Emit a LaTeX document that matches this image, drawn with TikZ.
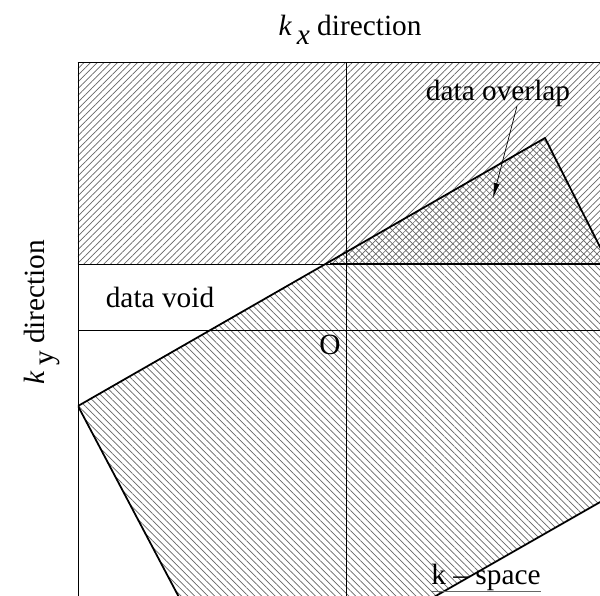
\documentclass[tikz,border=0pt]{standalone}
\usepackage{fontspec}
\setmainfont{Liberation Serif}
\usetikzlibrary{arrows.meta,patterns.meta}

\begin{document}
\begin{tikzpicture}[x=0.02cm, y=-0.02cm,
  lbl/.style={font=\fontsize{16.7}{20}\selectfont, inner sep=0pt},
  hatchne/.style={pattern={Lines[angle=45, distance=2.7pt, line width=0.4pt]}, pattern color=black!60},
  hatchnw/.style={pattern={Lines[angle=-45, distance=2.7pt, line width=0.4pt]}, pattern color=black!60},
  rimline/.style={line width=1pt},
  axisline/.style={line width=0.5pt},
  pointer/.style={-{Latex[length=8.5pt, width=3.4pt]}, line width=0.4pt},
]
\useasboundingbox (0,0) rectangle (600,596);

\coordinate (fa) at (78,406);
\coordinate (fb) at (545,138);
\coordinate (fc) at (700,445);
\coordinate (fd) at (238,709);

\begin{scope}
  \clip (78,62) rectangle (600,596);
  \fill[hatchne] (78,62) rectangle (620,264);
  \fill[hatchnw] (fa) -- (fb) -- (fc) -- (fd) -- cycle;
  \draw[axisline] (78,264) -- (620,264);
  \draw[axisline] (78,330) -- (620,330);
  \draw[axisline] (346,62) -- (346,620);
  \draw[rimline] (fd) -- (fa) -- (fb) -- (fc) -- cycle;
  \draw[rimline] (330,264) -- (620,264);
\end{scope}
\draw[axisline] (78,620) -- (78,62) -- (620,62);

\node[lbl] (kx) at (350,30) {\textit{k}\,\raisebox{-0.3em}{\textit{x}} direction};
\node[lbl, rotate=90] (ky) at (42,312) {\textit{k}\,\raisebox{-0.3em}{y} direction};
\node[lbl] (void) at (160,297) {data void};
\node[lbl] (overlap) at (498,93) {data overlap};
\node[lbl] (orig) at (330,345) {O};
\node[lbl] (kspace) at (486,577) {k -- space};
\draw[black!60, line width=0.6pt] ([yshift=-0.5pt]kspace.south west) -- ([yshift=-0.5pt]kspace.south east);

\coordinate (tail) at (517,106);
\coordinate (tip) at (493,198);
\draw[pointer] (tail) -- (tip);
\end{tikzpicture}
\end{document}
